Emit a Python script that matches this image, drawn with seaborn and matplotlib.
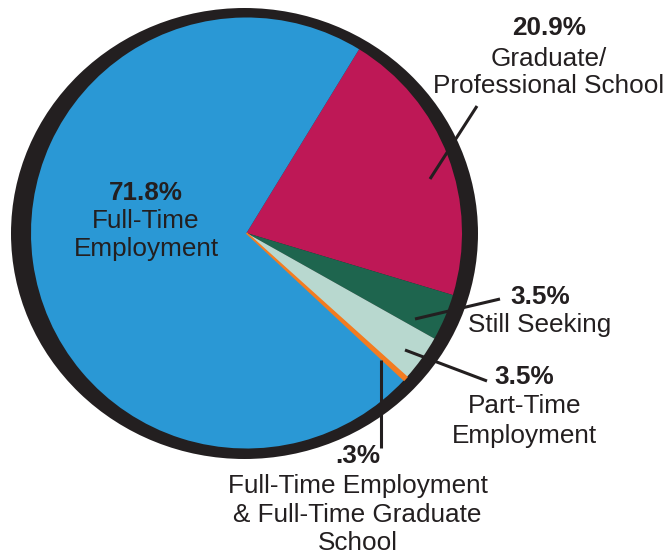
import matplotlib
matplotlib.use('Agg')
import matplotlib.pyplot as plt
from matplotlib.patches import Ellipse
import seaborn as sns

# data, clockwise from the top-right boundary
categories = ['Graduate/\nProfessional School', 'Still Seeking', 'Part-Time\nEmployment',
              'Full-Time Employment\n& Full-Time Graduate\nSchool', 'Full-Time\nEmployment']
shares = [20.9, 3.5, 3.5, 0.3, 71.8]
pct_labels = ['20.9%', '3.5%', '3.5%', '.3%', '71.8%']
colors = ['#be1856', '#1e654e', '#b8d8cf', '#f47c20', '#2a98d5']

W, H = 667, 554
INK = '#231f20'
FONT = 'Liberation Sans'
FS = 18.8


def Y(y):
  # pixel row -> data y
  return H - y


sns.set_theme(style='white')
plt.rcParams['font.family'] = [FONT, 'DejaVu Sans']

fig = plt.figure(figsize=(W / 100, H / 100), dpi=100)
ax = fig.add_axes([0, 0, 1, 1])

# thick dark rim behind the pie
ax.add_patch(Ellipse((244.5, Y(233.5)), 467, 451, facecolor=INK, edgecolor='none', zorder=0.5))

wedges, _ = ax.pie(shares, colors=sns.color_palette(colors), startangle=58.5, counterclock=False,
                   center=(246.5, Y(233)), radius=215.5, frame=True,
                   wedgeprops=dict(linewidth=0, edgecolor='none'))
# the tiny slice gets a stroke so it stays visible, as in the original
wedges[3].set_edgecolor(colors[3])
wedges[3].set_linewidth(1.2)
wedges[3].set_zorder(1.5)

ax.set_xlim(0, W)
ax.set_ylim(0, H)
ax.set_aspect('auto')
ax.axis('off')

# label blocks: (pct index, x center, pct baseline, name baselines)
blocks = [
  (0, 549, 35, [66, 93]),
  (1, 540, 304, [332]),
  (2, 524.5, 384, [413, 442.5]),
  (3, 357.5, 463, [492.5, 521.5, 550]),
  (4, 146, 200, [228, 256]),
]
for i, x, yb, name_rows in blocks:
  ax.text(x, Y(yb), pct_labels[i], ha='center', va='baseline', fontsize=FS,
          fontweight='bold', color=INK)
  for line, yl in zip(categories[i].split('\n'), name_rows):
    ax.text(x, Y(yl), line, ha='center', va='baseline', fontsize=FS, color=INK)

# leader lines
leaders = [
  ((430, 179), (477, 106)),
  ((415, 319), (500, 299)),
  ((405, 350), (487, 381)),
  ((381, 360), (381, 448)),
]
for (x1, y1), (x2, y2) in leaders:
  ax.plot([x1, x2], [Y(y1), Y(y2)], color=INK, lw=2.2, solid_capstyle='butt', zorder=3)

fig.savefig('out.png', dpi=100)
